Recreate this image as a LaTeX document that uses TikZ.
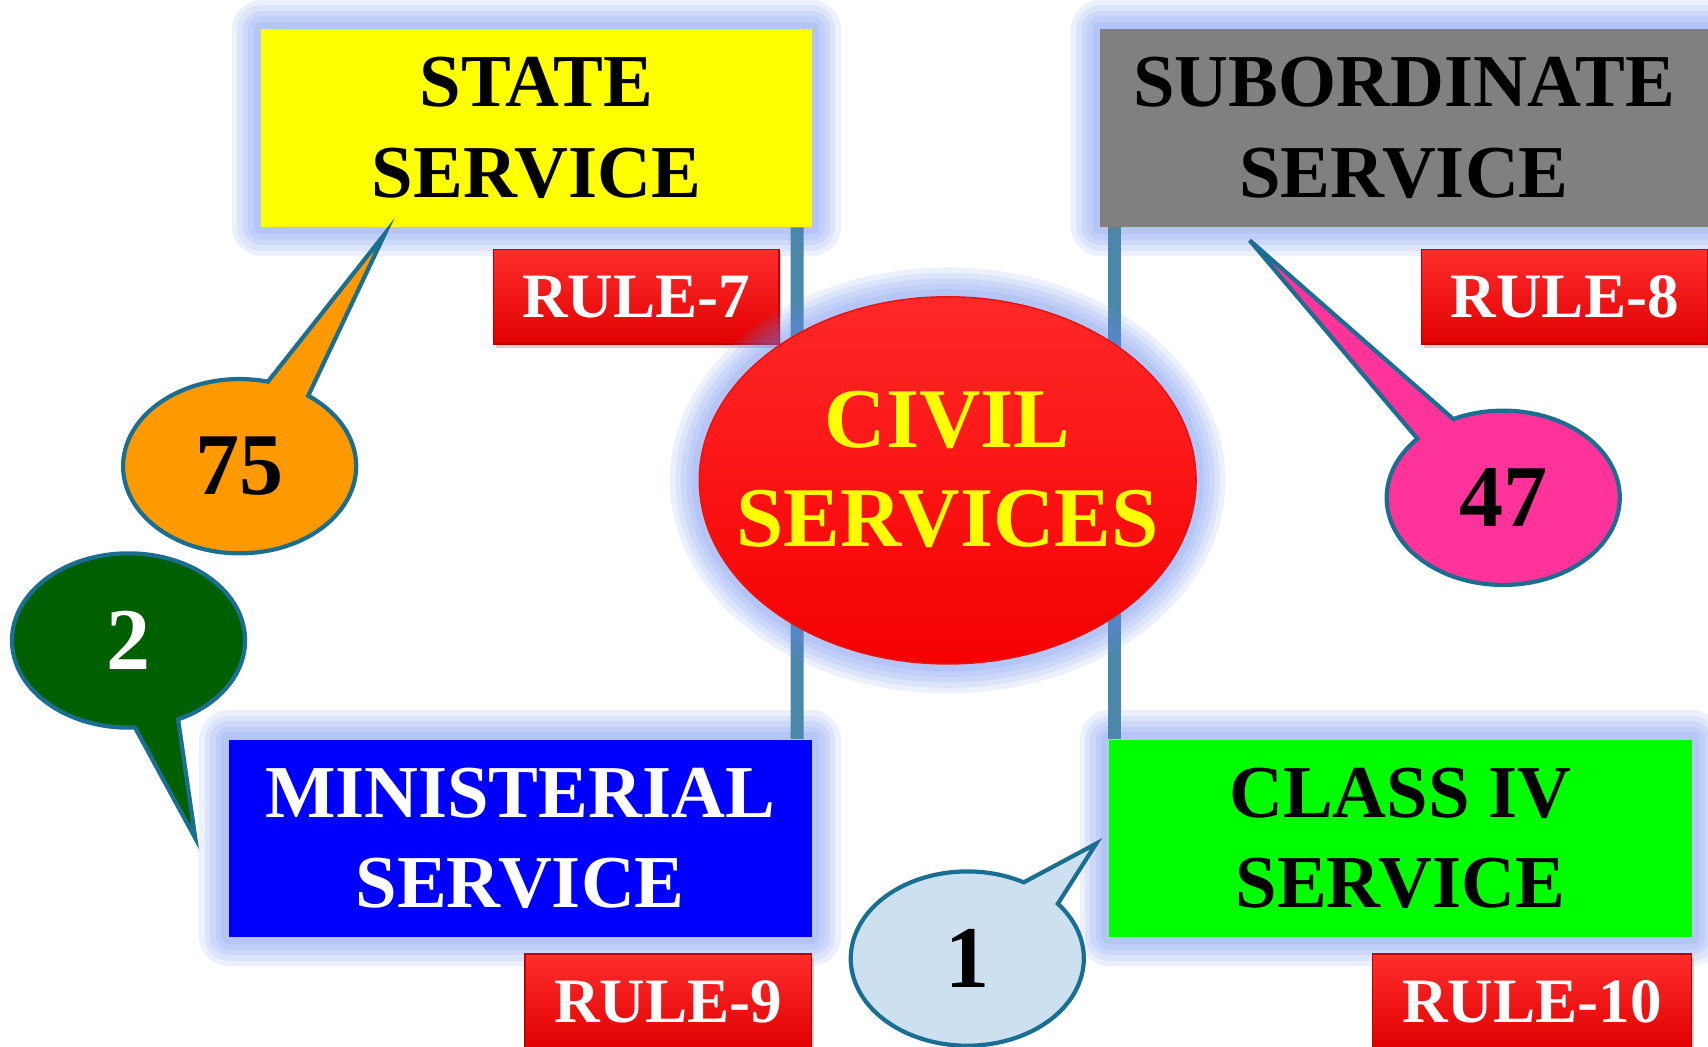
\documentclass[tikz,border=0pt]{standalone}
\usepackage{fontspec}
\setmainfont{Liberation Serif}
\usetikzlibrary{shapes.geometric,shapes.callouts,shadows}
\definecolor{glowc}{RGB}{100,135,235}
\definecolor{barc}{RGB}{75,135,170}
\definecolor{bubblec}{RGB}{25,110,145}
\definecolor{statec}{RGB}{255,255,0}
\definecolor{subc}{RGB}{128,128,128}
\definecolor{minc}{RGB}{0,0,255}
\definecolor{clsc}{RGB}{0,255,0}
\definecolor{orangec}{RGB}{255,153,0}
\definecolor{pinkc}{RGB}{255,51,153}
\definecolor{darkgreenc}{RGB}{0,96,0}
\definecolor{paleblue}{RGB}{204,224,240}
\begin{document}
\begin{tikzpicture}[
  glow/.style={line join=round,
    preaction={draw=glowc, opacity=0.12, line width=0.54cm},
    preaction={draw=glowc, opacity=0.12, line width=0.44cm},
    preaction={draw=glowc, opacity=0.12, line width=0.34cm},
    preaction={draw=glowc, opacity=0.12, line width=0.24cm},
    preaction={draw=glowc, opacity=0.12, line width=0.14cm}},
  servbox/.style={rectangle, glow, minimum height=1.81cm, inner sep=0pt, align=center,
    font=\fontsize{19.5}{23.6}\selectfont\bfseries},
  rulebox/.style={rectangle, minimum height=0.87cm, inner sep=0pt, draw=red!75!black,
    top color={rgb,255:red,255;green,45;blue,45}, bottom color={rgb,255:red,225;green,0;blue,0},
    text=white, font=\fontsize{16.5}{20}\selectfont\bfseries,
    drop shadow={shadow xshift=0.6pt, shadow yshift=-1pt, opacity=0.35}},
  bubble/.style={ellipse callout, draw=bubblec, line width=1.1pt, inner sep=0pt,
    minimum width=2.14cm, minimum height=1.6cm, callout pointer arc=22,
    font=\fontsize{23}{26}\selectfont\bfseries},
  bar/.style={draw=barc, line width=0.12cm},
]
\clip (0,0) rectangle (15.68,9.61);

% service boxes
\node[servbox, fill=statec, minimum width=5.05cm] (state) at (4.925,8.435) {STATE\\SERVICE};
\node[servbox, fill=subc, minimum width=5.58cm] (sub) at (12.89,8.435) {SUBORDINATE\\SERVICE};
\node[servbox, fill=minc, text=white, minimum width=5.35cm] (min) at (4.775,1.915) {MINISTERIAL\\SERVICE};
\node[servbox, fill=clsc, minimum width=5.35cm] (cls) at (12.855,1.915) {CLASS IV\\SERVICE};

% rules
\node[rulebox, minimum width=2.62cm] (rule7) at (5.84,6.885) {RULE-7};
\node[rulebox, minimum width=2.63cm] (rule8) at (14.365,6.885) {RULE-8};
\node[rulebox, minimum width=2.63cm] (rule9) at (6.135,0.415) {RULE-9};
\node[rulebox, minimum width=2.93cm] (rule10) at (14.065,0.415) {RULE-10};

% bars
\draw[bar] ([xshift=-0.14cm]state.south east) -- ([xshift=-0.14cm]min.north east);
\draw[bar] ([xshift=0.14cm]sub.south west) -- ([xshift=0.14cm]sub.south west |- cls.north);

% centre
\node[ellipse, glow, minimum width=4.56cm, minimum height=3.37cm, inner sep=0pt,
  top color={rgb,255:red,255;green,40;blue,40}, bottom color={rgb,255:red,245;green,0;blue,0},
  draw={rgb,255:red,230;green,20;blue,20}] (civil) at (8.70,5.20) {};
\node[text={rgb,255:red,255;green,255;blue,0}, align=center,
  font=\fontsize{22.2}{25.9}\selectfont\bfseries] (civiltext) at ([yshift=0.1cm]civil.center) {CIVIL\\SERVICES};

% callouts
\coordinate (tip75) at ([shift={(1.14,-0.06)}]state.south west);
\coordinate (tip47) at ([shift={(1.38,-0.12)}]sub.south west);
\coordinate (tip2) at ([xshift=-0.30cm]min.west);
\coordinate (tip1) at ([shift={(-0.11,-0.05)}]cls.west);
\node[bubble, fill=orangec, callout absolute pointer={(tip75)}] (b75) at (2.20,5.33) {75};
\node[bubble, fill=pinkc, callout absolute pointer={(tip47)}] (b47) at (13.80,5.04) {47};
\node[bubble, fill=darkgreenc, text=white, callout absolute pointer={(tip2)}] (b2) at (1.18,3.73) {2};
\node[bubble, fill=paleblue, callout absolute pointer={(tip1)}] (b1) at (8.88,0.81) {1};
\end{tikzpicture}
\end{document}
